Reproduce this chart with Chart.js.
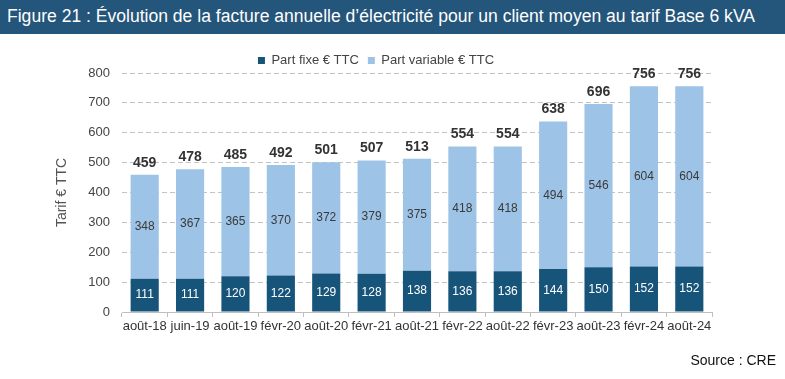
<!DOCTYPE html>
<html>
<head>
<meta charset="utf-8">
<script src="https://cdn.jsdelivr.net/npm/chart.js@4.4.1/dist/chart.umd.min.js"></script>
<style>
  body { margin: 0; background: #fff; font-family: Arial, 'Liberation Sans', sans-serif; }
  #wrap { position: relative; width: 785px; height: 379px; overflow: hidden; }
  #title { position: absolute; left: 0; top: 0; width: 785px; height: 34px; background: #24557b; color: #fff; }
  #title span { position: absolute; left: 7px; top: 6px; font-size: 18px; white-space: nowrap; transform-origin: 0 0; font-family: 'Liberation Sans Narrow', Arial, sans-serif; }
  #source { position: absolute; right: 9px; top: 352px; font-size: 14px; color: #111; }
  canvas { position: absolute; left: 0; top: 0; }
</style>
</head>
<body>
<div id="wrap">
  <canvas id="chart" width="785" height="379"></canvas>
  <div id="title"><span id="titleText">Figure 21 : Évolution de la facture annuelle d’électricité pour un client moyen au tarif Base 6 kVA</span></div>
  <div id="source">Source : CRE</div>
</div>
<script>
const labels = ['août-18', 'juin-19', 'août-19', 'févr-20', 'août-20', 'févr-21', 'août-21', 'févr-22', 'août-22', 'févr-23', 'août-23', 'févr-24', 'août-24'];
const partFixe = [111, 111, 120, 122, 129, 128, 138, 136, 136, 144, 150, 152, 152];
const partVariable = [348, 367, 365, 370, 372, 379, 375, 418, 418, 494, 546, 604, 604];
const yTicks = [0, 100, 200, 300, 400, 500, 600, 700, 800];

// squeeze the title into the bar like the narrow font of the original
const titleSpan = document.getElementById('titleText');
const tw = titleSpan.getBoundingClientRect().width;
titleSpan.style.transform = 'scaleX(' + (748 / tw) + ')';

const valueLabels = {
    id: 'valueLabels',
    afterDatasetsDraw(chart) {
        const ctx = chart.ctx;
        ctx.save();
        ctx.textAlign = 'center';
        ctx.textBaseline = 'middle';
        chart.data.datasets.forEach((ds, i) => {
            const meta = chart.getDatasetMeta(i);
            ctx.font = '12px Arial, "Liberation Sans", sans-serif';
            ctx.fillStyle = i === 0 ? '#ffffff' : '#3a3a3a';
            meta.data.forEach((bar, j) => {
                ctx.fillText(ds.data[j], bar.x, (bar.y + bar.base) / 2);
            });
        });
        const top = chart.getDatasetMeta(1);
        ctx.font = 'bold 14px Arial, "Liberation Sans", sans-serif';
        ctx.fillStyle = '#333333';
        ctx.textBaseline = 'bottom';
        top.data.forEach((bar, j) => {
            ctx.fillText(partFixe[j] + partVariable[j], bar.x, bar.y - 5);
        });
        ctx.restore();
    }
};

const chart = new Chart(document.getElementById('chart').getContext('2d'), {
    type: 'bar',
    data: {
        labels: labels,
        datasets: [
            {
                label: 'Part fixe € TTC',
                data: partFixe,
                backgroundColor: '#17547a',
                categoryPercentage: 1,
                barPercentage: 0.62,
            },
            {
                label: 'Part variable € TTC',
                data: partVariable,
                backgroundColor: '#9dc3e6',
                categoryPercentage: 1,
                barPercentage: 0.62,
            }
        ]
    },
    options: {
        responsive: false,
        animation: false,
        layout: {
            padding: { left: 40, right: 73, top: 45, bottom: 37 }
        },
        scales: {
            x: {
                stacked: true,
                afterFit: (scale) => { scale.height = 30; },
                grid: {
                    display: true,
                    drawOnChartArea: false,
                    drawTicks: true,
                    tickLength: 5,
                    color: '#bfbfbf',
                    offset: true,
                },
                border: { display: true, color: '#bfbfbf' },
                ticks: {
                    color: '#333333',
                    font: { size: 13, family: 'Arial, "Liberation Sans", sans-serif' },
                    maxRotation: 0,
                    autoSkip: false,
                    padding: 2,
                },
            },
            y: {
                stacked: true,
                min: 0,
                max: 800,
                afterFit: (scale) => { scale.width = 82; },
                afterBuildTicks: (scale) => { scale.ticks = yTicks.map(v => ({ value: v })); },
                grid: {
                    color: '#c4c4c4',
                    drawTicks: false,
                },
                border: { display: false, dash: [5, 3] },
                ticks: {
                    color: '#444444',
                    padding: 12,
                    font: { size: 13, family: 'Arial, "Liberation Sans", sans-serif' },
                },
                title: {
                    display: true,
                    text: 'Tarif € TTC',
                    color: '#555555',
                    font: { size: 14, family: 'Arial, "Liberation Sans", sans-serif' },
                    padding: { top: 14, bottom: 0 },
                },
            }
        },
        plugins: {
            legend: {
                maxHeight: 28,
                labels: {
                    color: '#444444',
                    boxWidth: 7,
                    boxHeight: 7,
                    padding: 9,
                    font: { size: 13, family: 'Arial, "Liberation Sans", sans-serif' },
                }
            },
            tooltip: { enabled: false },
        },
    },
    plugins: [valueLabels]
});
window.chart = chart;
</script>
</body>
</html>
